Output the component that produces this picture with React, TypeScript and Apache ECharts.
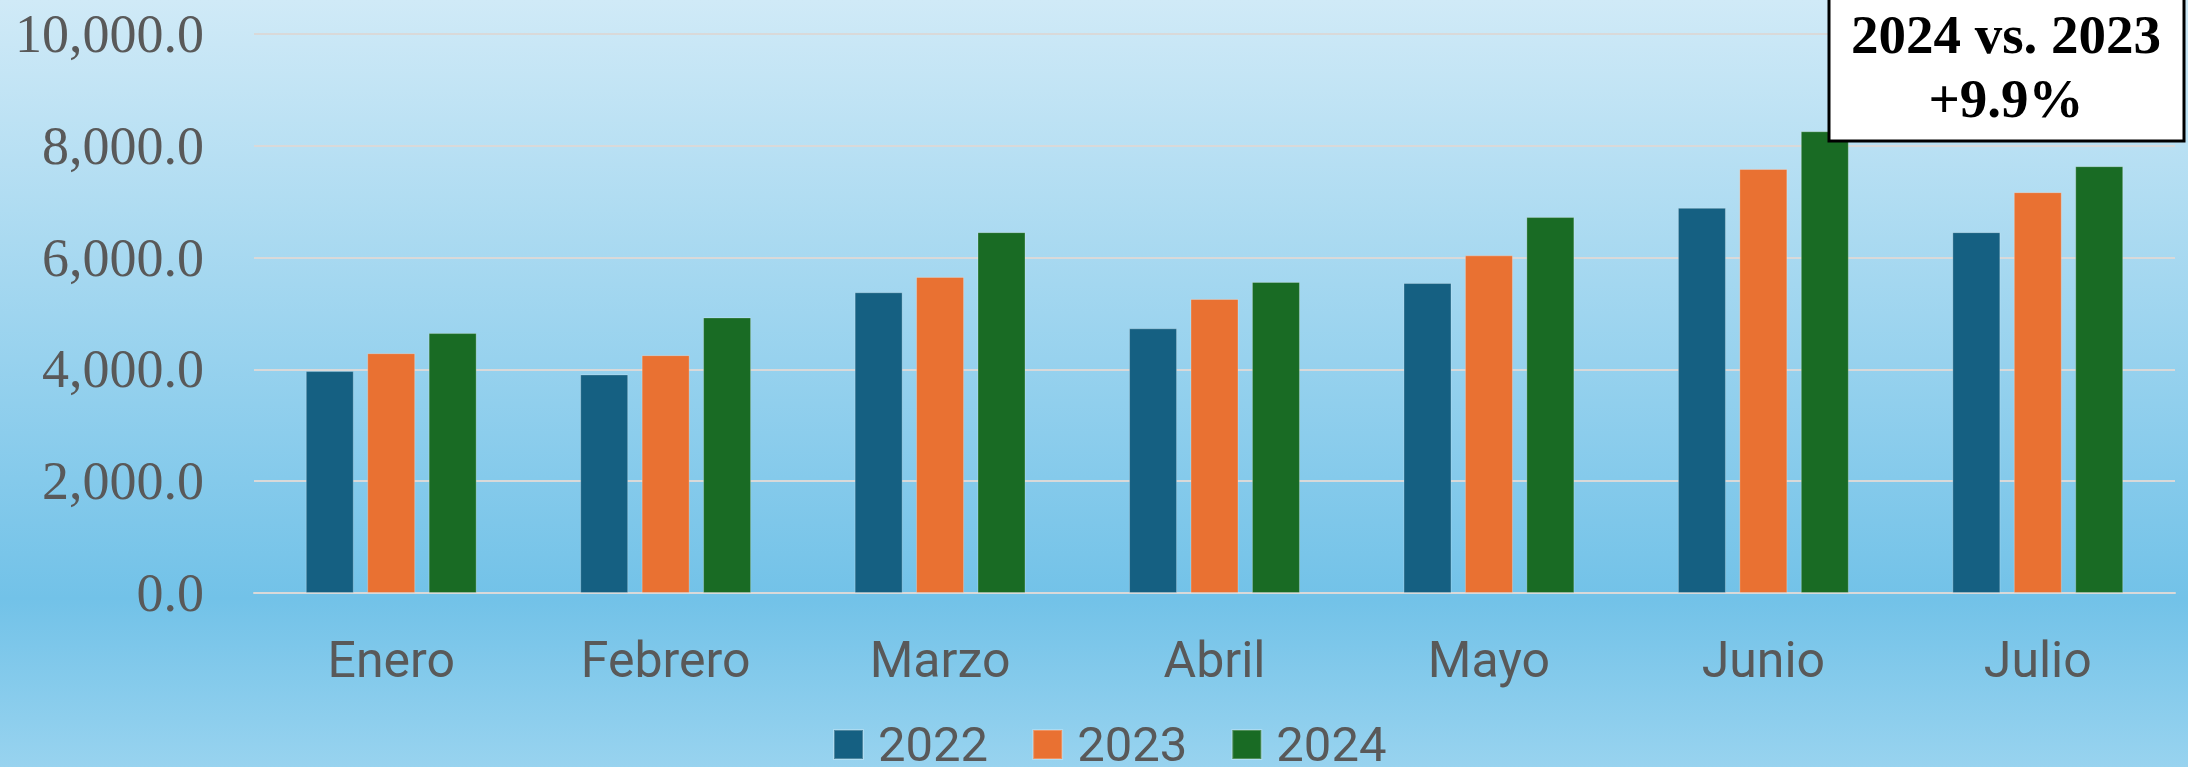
import React, { useEffect, useRef } from 'react';
import * as echarts from 'echarts';

const categories = ['Enero', 'Febrero', 'Marzo', 'Abril', 'Mayo', 'Junio', 'Julio'];
const seriesNames = ['2022', '2023', '2024'];
const values2022 = [3970, 3910, 5380, 4735, 5545, 6890, 6455];
const values2023 = [4290, 4255, 5655, 5260, 6040, 7585, 7170];
const values2024 = [4650, 4930, 6455, 5565, 6725, 8260, 7635];
const yMin = 0;
const yMax = 10000;
const yInterval = 2000;
const annotationText = '2024 vs. 2023\n+9.9%';

const colors = ['#156082', '#E97132', '#196B24'];

export default function App() {
  const ref = useRef<HTMLDivElement>(null);
  useEffect(() => {
    const chart = echarts.init(ref.current!, null, { renderer: 'svg' });
    const allValues = [values2022, values2023, values2024];
    chart.setOption({
      animation: false,
      backgroundColor: new echarts.graphic.LinearGradient(0, 0, 0, 1, [
        { offset: 0, color: '#D0EAF7' },
        { offset: 0.78, color: '#72C2E8' },
        { offset: 1, color: '#98D3EF' },
      ]),
      grid: { left: 254, right: 13, top: 34, bottom: 174 },
      legend: {
        data: seriesNames,
        left: 833,
        top: 720,
        padding: 0,
        icon: 'rect',
        itemWidth: 29,
        itemHeight: 29,
        itemGap: 44,
        textStyle: {
          fontSize: 49,
          color: '#595959',
          fontFamily: 'Roboto',
          padding: [0, 0, 0, 10],
        },
      },
      xAxis: {
        type: 'category',
        data: categories,
        axisTick: { show: false },
        axisLine: { lineStyle: { color: '#D9D9D9', width: 2 } },
        axisLabel: {
          fontSize: 50,
          color: '#595959',
          fontFamily: 'Roboto',
          margin: 42,
        },
      },
      yAxis: {
        type: 'value',
        min: yMin,
        max: yMax,
        interval: yInterval,
        axisLine: { show: false },
        axisTick: { show: false },
        splitLine: { lineStyle: { color: '#D9D9D9', width: 2 } },
        axisLabel: {
          fontSize: 54,
          color: '#595959',
          fontFamily: '"Liberation Serif", "Times New Roman", serif',
          margin: 50,
          formatter: (v: number) =>
            v.toLocaleString('en-US', { minimumFractionDigits: 1, maximumFractionDigits: 1 }),
        },
      },
      series: seriesNames.map((name, i) => ({
        name,
        type: 'bar',
        data: allValues[i],
        barWidth: 48,
        barGap: '28%',
        itemStyle: {
          color: colors[i],
          borderColor: 'rgba(255,255,255,0.25)',
          borderWidth: 1,
        },
      })),
      graphic: [
        {
          type: 'rect',
          z: 100,
          shape: { x: 1829, y: -4, width: 355, height: 145 },
          style: { fill: '#FFFFFF', stroke: '#000000', lineWidth: 3 },
        },
        {
          type: 'text',
          z: 101,
          x: 2006,
          y: 2,
          style: {
            text: annotationText,
            fontSize: 55,
            fontWeight: 'bold',
            fontFamily: '"Liberation Serif", "Times New Roman", serif',
            fill: '#000000',
            align: 'center',
            verticalAlign: 'top',
            lineHeight: 64,
          },
        },
      ],
    });
    return () => chart.dispose();
  }, []);
  return (
    <div
      ref={ref}
      style={{ position: 'absolute', left: 0, top: 0, width: 2188, height: 767 }}
    />
  );
}
